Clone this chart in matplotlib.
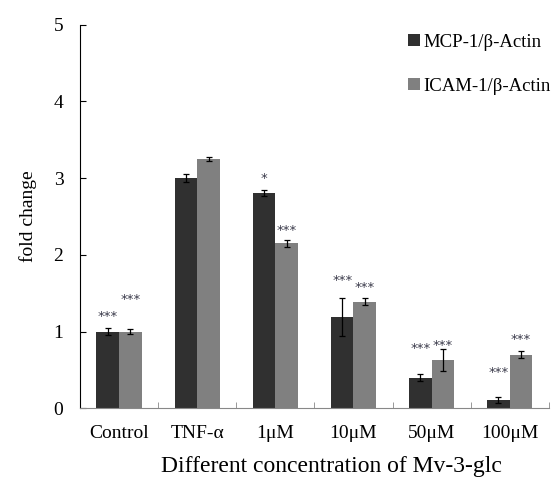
import matplotlib
matplotlib.use("Agg")
import matplotlib.pyplot as plt
import numpy as np

categories = ["Control", "TNF-α", "1μM", "10μM", "50μM", "100μM"]
mcp = [1.00, 3.00, 2.81, 1.19, 0.40, 0.11]
mcp_err = [0.05, 0.05, 0.04, 0.25, 0.04, 0.04]
icam = [1.00, 3.25, 2.15, 1.39, 0.63, 0.70]
icam_err = [0.03, 0.03, 0.05, 0.05, 0.14, 0.05]
mcp_stars = ["***", "", "*", "***", "***", "***"]
icam_stars = ["***", "", "***", "***", "***", "***"]
mcp_star_pad = [0.14, 0.0, 0.15, 0.22, 0.34, 0.31]
icam_star_pad = [0.39, 0.0, 0.12, 0.14, 0.05, 0.14]

plt.rcParams['font.family'] = ['Liberation Serif', 'DejaVu Serif']

fig = plt.figure(figsize=(5.6, 4.96), dpi=100)
ax = fig.add_axes([0.143, 0.177, 0.837, 0.773])

x = np.arange(len(categories))
w = 0.29
dark = "#303030"
gray = "#808080"
ek = dict(ecolor="black", elinewidth=0.9, capsize=2.5, capthick=0.9)
ax.bar(x - w/2, mcp, w, yerr=mcp_err, color=dark, label="MCP-1/β-Actin", error_kw=ek)
ax.bar(x + w/2, icam, w, yerr=icam_err, color=gray, label="ICAM-1/β-Actin", error_kw=ek)

for i in range(len(categories)):
    if mcp_stars[i]:
        ax.text(x[i] - w/2, mcp[i] + mcp_err[i] + mcp_star_pad[i], mcp_stars[i],
                ha="center", va="center", fontsize=9.5, color="#3a3a4a", family="DejaVu Sans")
    if icam_stars[i]:
        ax.text(x[i] + w/2, icam[i] + icam_err[i] + icam_star_pad[i], icam_stars[i],
                ha="center", va="center", fontsize=9.5, color="#3a3a4a", family="DejaVu Sans")

ax.set_xlim(-0.5, len(categories) - 0.5)
ax.set_ylim(0, 5)
ax.set_yticks([0, 1, 2, 3, 4, 5])
ax.set_xticks(x)
ax.set_xticklabels(categories, fontsize=14)
ax.tick_params(axis="x", length=0, pad=12)
ax.set_xticks(np.arange(len(categories) + 1) - 0.5, minor=True)
ax.tick_params(axis="x", which="minor", direction="in", length=4, color="#888888")
ax.tick_params(axis="y", direction="in", length=4, labelsize=14, pad=12)
for s in ["top", "right"]:
    ax.spines[s].set_visible(False)
ax.spines["bottom"].set_color("#888888")
ax.set_ylabel("fold change", fontsize=14, labelpad=12)
ax.set_xlabel("Different concentration of Mv-3-glc", fontsize=17)
ax.xaxis.set_label_coords(0.537, -0.125)

fig.legend(loc="upper left", bbox_to_anchor=(0.722, 0.94), frameon=False, fontsize=13.5,
           handlelength=0.65, handleheight=0.65, handletextpad=0.15, labelspacing=1.45,
           borderpad=0.2, borderaxespad=0.0)

fig.savefig("out.png", dpi=100)
